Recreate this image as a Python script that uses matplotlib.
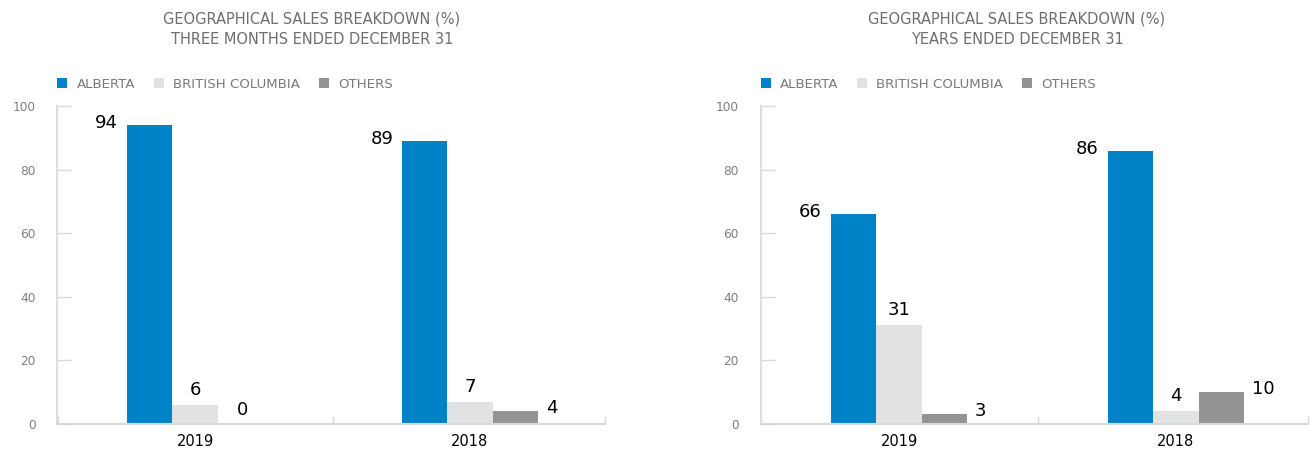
import numpy as np
import matplotlib
matplotlib.use("Agg")
import matplotlib.pyplot as plt

# sales share by region (%)
years = ["2019", "2018"]
regions = ["ALBERTA", "BRITISH COLUMBIA", "OTHERS"]
quarter_alberta = [94, 89]
quarter_bc = [6, 7]
quarter_others = [0, 4]
annual_alberta = [66, 86]
annual_bc = [31, 4]
annual_others = [3, 10]

colors = ["#0082c8", "#e1e2e3", "#939494"]
title_gray = "#6d6e71"
axis_gray = "#d9d9d9"

W, H = 1310, 451
fig = plt.figure(figsize=(W / 100, H / 100), dpi=100)
plt.rcParams["font.family"] = ["DejaVu Sans"]

bar_w = 0.164


def px(v):
    # pixels -> points
    return v * 72 / 100


def draw_panel(ax, series, subtitle, title_x, xmax):
    x = np.arange(len(years))
    bars = []
    for i, (vals, name) in enumerate(zip(series, regions)):
        b = ax.bar(x + (i - 1) * bar_w, vals, bar_w, color=colors[i], label=name, zorder=2)
        bars.append(b)

    ax.set_xlim(-0.5, xmax)
    ax.set_ylim(0, 100)
    for s in ["top", "right"]:
        ax.spines[s].set_visible(False)
    ax.spines["left"].set_color(axis_gray)
    ax.spines["bottom"].set_color(axis_gray)
    ax.spines["left"].set_linewidth(1.2)
    ax.spines["bottom"].set_linewidth(1.5)

    ax.set_yticks(range(0, 101, 20))
    ax.tick_params(axis="y", direction="in", length=px(14), width=1.0, color=axis_gray,
                   labelsize=8.7, labelcolor="#7f7f7f", pad=px(22))
    ax.set_xticks(x)
    ax.set_xticklabels(years)
    ax.tick_params(axis="x", which="major", length=0, labelsize=10.5, labelcolor="black",
                   pad=px(10))
    ax.set_xticks([-0.5, 0.5, xmax], minor=True)
    ax.tick_params(axis="x", which="minor", direction="in", length=px(8), width=1.0,
                   color=axis_gray)

    # value labels
    dpt = 72 / 100
    for j in range(len(years)):
        b = bars[0][j]
        v = series[0][j]
        ax.annotate(str(v), (b.get_x(), v), xytext=(-9 * dpt, 2 * dpt),
                    textcoords="offset points", ha="right", va="center", fontsize=13)
        b = bars[1][j]
        v = series[1][j]
        ax.annotate(str(v), (b.get_x() + b.get_width() / 2, v), xytext=(0, 6 * dpt),
                    textcoords="offset points", ha="center", va="bottom", fontsize=13)
        b = bars[2][j]
        v = series[2][j]
        if v == 0:
            ax.annotate(str(v), (b.get_x() + b.get_width() / 2, v), xytext=(2 * dpt, 5 * dpt),
                        textcoords="offset points", ha="center", va="bottom", fontsize=13)
        else:
            ax.annotate(str(v), (b.get_x() + b.get_width(), v), xytext=(8 * dpt, 3 * dpt),
                        textcoords="offset points", ha="left", va="center", fontsize=13)

    fig.text(title_x / W, 1 - 19 / H, "GEOGRAPHICAL SALES BREAKDOWN (%)", ha="center",
             va="center", fontsize=10.5, color=title_gray)
    fig.text(title_x / W, 1 - 40 / H, subtitle, ha="center", va="center",
             fontsize=10.5, color=title_gray)

    leg = ax.legend(loc="center left", bbox_to_anchor=(0.0, 1 + 22 / 318), ncol=3,
                    frameon=False, fontsize=9.6, handlelength=0.75, handleheight=0.75,
                    handletextpad=0.7, columnspacing=1.4, borderpad=0, borderaxespad=0)
    for t in leg.get_texts():
        t.set_color("#7a7a7a")


bottom = 1 - 424 / H
height = 318 / H

ax1 = fig.add_axes([57.5 / W, bottom, 1.99 * 275 / W, height])
draw_panel(ax1, [quarter_alberta, quarter_bc, quarter_others],
           "THREE MONTHS ENDED DECEMBER 31", 312, 1.49)

ax2 = fig.add_axes([760.5 / W, bottom, 1.975 * 277 / W, height])
draw_panel(ax2, [annual_alberta, annual_bc, annual_others],
           "YEARS ENDED DECEMBER 31", 1017, 1.475)

fig.savefig("out.png", dpi=100)
